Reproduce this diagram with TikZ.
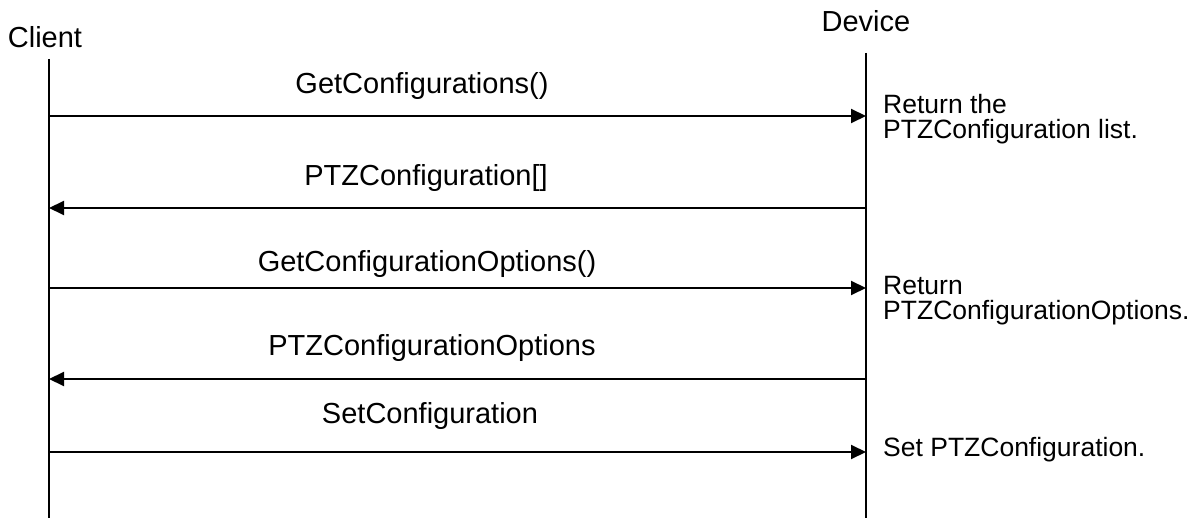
\documentclass[tikz,border=0pt]{standalone}
\usepackage{fontspec}
\setmainfont{Liberation Sans}
\usetikzlibrary{arrows.meta}
\begin{document}
\begin{tikzpicture}[x=1bp,y=-1bp,
  lifeline/.style={line width=2bp, black},
  msg/.style={line width=2bp, black, -{Triangle[length=15bp,width=14bp]}},
  lbl/.style={font=\fontsize{29bp}{30bp}\selectfont, inner sep=0pt, anchor=base},
  note/.style={font=\fontsize{26.5bp}{25bp}\selectfont, inner sep=0pt, anchor=north west, align=left}]
\useasboundingbox (0,0) rectangle (1202,518);
% actors
\node[lbl] (client) at (45,48) {Client};
\node[lbl] (device) at (866,32) {Device};
% lifelines
\coordinate (ctop) at (49,59);
\coordinate (cbot) at (49,518);
\coordinate (dtop) at (866,53);
\coordinate (dbot) at (866,518);
\draw[lifeline] (ctop) -- (cbot);
\draw[lifeline] (dtop) -- (dbot);
% message endpoints
\coordinate (c1) at (49,116);  \coordinate (d1) at (866,116);
\coordinate (c2) at (49,208);  \coordinate (d2) at (866,208);
\coordinate (c3) at (49,288);  \coordinate (d3) at (866,288);
\coordinate (c4) at (49,379);  \coordinate (d4) at (866,379);
\coordinate (c5) at (49,452);  \coordinate (d5) at (866,452);
\draw[msg] (c1) -- (d1);
\draw[msg] (d2) -- (c2);
\draw[msg] (c3) -- (d3);
\draw[msg] (d4) -- (c4);
\draw[msg] (c5) -- (d5);
% message labels
\node[lbl] (m1) at (422,94) {GetConfigurations()};
\node[lbl] (m2) at (426,186) {PTZConfiguration[]};
\node[lbl] (m3) at (427,272) {GetConfigurationOptions()};
\node[lbl] (m4) at (432,356) {PTZConfigurationOptions};
\node[lbl] (m5) at (430,423) {SetConfiguration};
% notes
\node[note] (n1) at (883,94) {Return the\\PTZConfiguration list.};
\node[note] (n2) at (883,276) {Return\\PTZConfigurationOptions.};
\node[note] (n3) at (883,437) {Set PTZConfiguration.};
\end{tikzpicture}
\end{document}
